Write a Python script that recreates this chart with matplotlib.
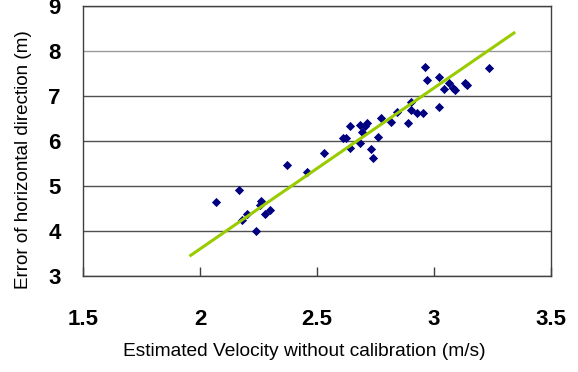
import matplotlib
matplotlib.use("Agg")
import matplotlib.pyplot as plt

# Data
velocity = [2.070, 2.168, 2.180, 2.200, 2.241, 2.258, 2.261, 2.278, 2.298, 2.372,
            2.458, 2.529, 2.612, 2.622, 2.641, 2.643, 2.682, 2.691, 2.682, 2.703,
            2.712, 2.729, 2.739, 2.760, 2.772, 2.815, 2.840, 2.890, 2.900, 2.903,
            2.929, 2.953, 2.960, 2.972, 3.022, 3.022, 3.043, 3.063, 3.082, 3.089,
            3.132, 3.143, 3.233]
error = [4.64, 4.91, 4.24, 4.37, 4.01, 4.58, 4.67, 4.38, 4.47, 5.47,
         5.32, 5.74, 6.06, 6.06, 6.33, 5.84, 5.95, 6.21, 6.35, 6.33,
         6.39, 5.82, 5.62, 6.10, 6.52, 6.43, 6.65, 6.39, 6.87, 6.70,
         6.63, 6.63, 7.65, 7.36, 7.43, 6.75, 7.16, 7.30, 7.18, 7.13,
         7.28, 7.25, 7.62]
trend_x = [1.955, 3.347]
trend_y = [3.44, 8.42]

xticks = [1.5, 2, 2.5, 3, 3.5]
xticklabels = ["1.5", "2", "2.5", "3", "3.5"]
yticks = [3, 4, 5, 6, 7, 8, 9]

W, H = 578, 372
fig = plt.figure(figsize=(W / 100, H / 100), dpi=100)
ax = fig.add_axes([83 / W, (H - 276) / H, (551 - 83) / W, 270 / H])

ax.set_xlim(1.5, 3.5)
ax.set_ylim(3, 9)

ax.scatter(velocity, error, marker="D", s=22, color="#000080", zorder=3, linewidths=0)
ax.plot(trend_x, trend_y, color="#99CC00", lw=2.2, zorder=4, solid_capstyle="butt")

ax.set_xticks(xticks)
ax.set_xticklabels(xticklabels)
ax.set_yticks(yticks)
ax.grid(axis="y", color="#505050", lw=1)
ax.set_axisbelow(True)
for val, gl in zip(yticks, ax.get_ygridlines()):
    if val == 8:
        gl.set_color("#999999")

for lbl in ax.get_xticklabels() + ax.get_yticklabels():
    lbl.set_fontfamily("Liberation Sans")
    lbl.set_fontweight("bold")
    lbl.set_fontsize(16)

ax.tick_params(axis="x", direction="in", length=6.5, width=1, color="#404040", pad=24)
ax.tick_params(axis="y", length=0, pad=16)
for s in ax.spines.values():
    s.set_color("#404040")
    s.set_linewidth(1)

fig.text(304 / W, 1 - 352 / H, "Estimated Velocity without calibration (m/s)",
         ha="center", va="center", fontsize=13.8, family="Liberation Sans")
fig.text(24 / W, 1 - 160 / H, "Error of horizontal direction (m)",
         ha="center", va="center", rotation=90, fontsize=13.6, family="Liberation Sans")

fig.savefig("out.png", dpi=100)
